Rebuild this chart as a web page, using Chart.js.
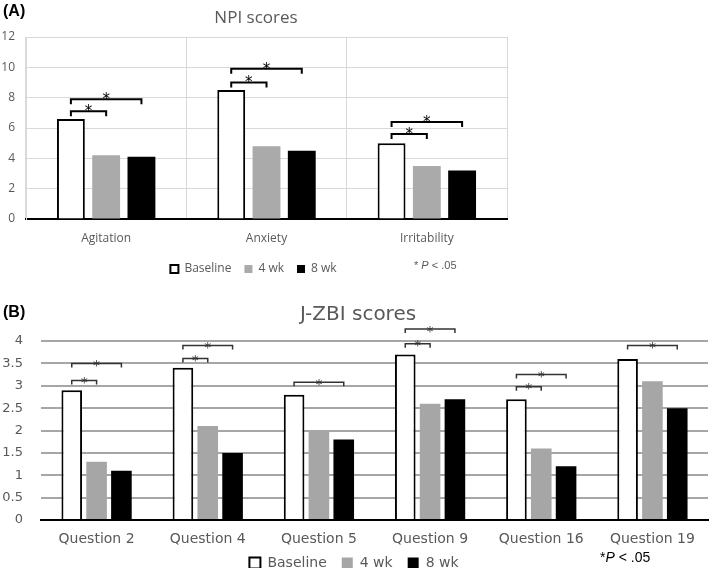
<!DOCTYPE html>
<html>
<head>
<meta charset="utf-8">
<script src="https://cdn.jsdelivr.net/npm/chart.js@4.4.0/dist/chart.umd.min.js"></script>
<style>
  body { margin: 0; background: #fff; width: 709px; height: 568px; position: relative; overflow: hidden; }
  #wa { position: absolute; left: 0; top: 0; width: 709px; height: 285px; }
  #wb { position: absolute; left: 0; top: 285px; width: 709px; height: 295px; }
</style>
</head>
<body>
<div id="wa"><canvas id="npi"></canvas></div>
<div id="wb"><canvas id="zbi"></canvas></div>
<script>
// panel A - NPI
const npiLabels = ["Agitation", "Anxiety", "Irritability"];
const npiBaseline = [6.6, 8.5, 5.0];
const npi4wk = [4.2, 4.8, 3.5];
const npi8wk = [4.1, 4.5, 3.2];
// [category, compared series, bracket height]
const npiBrackets = [[0, 1, 7.1], [0, 2, 7.9], [1, 1, 9.0], [1, 2, 9.9], [2, 1, 5.6], [2, 2, 6.4]];

// panel B - J-ZBI
const zbiLabels = ["Question 2", "Question 4", "Question 5", "Question 9", "Question 16", "Question 19"];
const zbiBaseline = [2.9, 3.4, 2.8, 3.7, 2.7, 3.6];
const zbi4wk = [1.3, 2.1, 2.0, 2.6, 1.6, 3.1];
const zbi8wk = [1.1, 1.5, 1.8, 2.7, 1.2, 2.5];
const zbiBrackets = [[0, 1, 3.12], [0, 2, 3.5], [1, 1, 3.61], [1, 2, 3.9], [2, 2, 3.08],
                     [3, 1, 3.94], [3, 2, 4.27], [4, 1, 2.98], [4, 2, 3.25], [5, 2, 3.9]];

const seriesNames = ["Baseline", "4 wk", "8 wk"];
const txt = "#595959";

function brackets(list, o) {
  return {
    id: "brackets",
    afterDatasetsDraw(chart) {
      const ctx = chart.ctx;
      const y = chart.scales.y;
      ctx.save();
      ctx.strokeStyle = o.color;
      ctx.fillStyle = o.color;
      ctx.lineWidth = o.width;
      ctx.font = o.font;
      ctx.textAlign = "center";
      list.forEach(([c, s, v]) => {
        const x0 = chart.getDatasetMeta(0).data[c].x;
        const x1 = chart.getDatasetMeta(s).data[c].x;
        const py = y.getPixelForValue(v);
        ctx.beginPath();
        ctx.moveTo(x0, py + o.tick);
        ctx.lineTo(x0, py);
        ctx.lineTo(x1, py);
        ctx.lineTo(x1, py + o.tick);
        ctx.stroke();
        ctx.fillText("*", (x0 + x1) / 2, py + o.starDy);
      });
      ctx.restore();
    }
  };
}

// titles, panel letters and the p-value note
function texts(items) {
  return {
    id: "texts",
    afterDraw(chart) {
      const ctx = chart.ctx;
      ctx.save();
      ctx.textBaseline = "middle";
      items.forEach(it => {
        ctx.fillStyle = it.color;
        ctx.textAlign = it.align || "left";
        let x = it.x;
        it.runs.forEach(r => {
          ctx.font = r[1];
          ctx.fillText(r[0], x, it.y);
          x += ctx.measureText(r[0]).width;
        });
      });
      ctx.restore();
    }
  };
}

function sets(b, w4, w8, gray) {
  return [
    { label: seriesNames[0], data: b, backgroundColor: "#ffffff", borderColor: "#000000", borderWidth: 2 },
    { label: seriesNames[1], data: w4, backgroundColor: gray, borderColor: gray, borderWidth: 0 },
    { label: seriesNames[2], data: w8, backgroundColor: "#000000", borderColor: "#000000", borderWidth: 0 }
  ];
}

new Chart(document.getElementById("npi"), {
  type: "bar",
  data: { labels: npiLabels, datasets: sets(npiBaseline, npi4wk, npi8wk, "#aaaaaa") },
  options: {
    responsive: true,
    maintainAspectRatio: false,
    animation: false,
    categoryPercentage: 0.66,
    barPercentage: 0.79,
    layout: { padding: { top: 37, right: 202, left: 0, bottom: 0 } },
    plugins: {
      tooltip: { enabled: false },
      legend: {
        position: "bottom",
        labels: { boxWidth: 8, boxHeight: 8, padding: 13, color: txt, font: { family: "Open Sans", size: 12 } }
      }
    },
    scales: {
      x: {
        afterFit: s => { s.height = 31; },
        grid: { offset: true, color: "#d9d9d9", drawTicks: false },
        border: { color: "#000000", width: 2 },
        ticks: { padding: 12, color: txt, font: { family: "Open Sans", size: 12 } }
      },
      y: {
        min: 0, max: 12,
        afterFit: s => { s.width = 26; },
        grid: { color: "#d9d9d9", drawTicks: false },
        border: { color: "#d9d9d9" },
        ticks: { stepSize: 2, padding: 11, color: txt, font: { family: "Open Sans", size: 12 } }
      }
    }
  },
  plugins: [
    brackets(npiBrackets, { color: "#000", width: 2, tick: 5, font: "15px DejaVu Sans", starDy: 1 }),
    texts([
      { x: 3, y: 12, color: "#000", runs: [["(A)", "bold 16px Liberation Sans"]] },
      { x: 256, y: 18, color: txt, align: "center", runs: [["NPI scores", "17px Open Sans"]] },
      { x: 414, y: 266, color: txt, runs: [["* ", "11px Liberation Sans"], ["P", "italic 11px Liberation Sans"], [" < .05", "11px Liberation Sans"]] }
    ])
  ]
});

new Chart(document.getElementById("zbi"), {
  type: "bar",
  data: { labels: zbiLabels, datasets: sets(zbiBaseline, zbi4wk, zbi8wk, "#a6a6a6") },
  options: {
    responsive: true,
    maintainAspectRatio: false,
    animation: false,
    categoryPercentage: 0.67,
    barPercentage: 0.83,
    layout: { padding: { top: 56, right: 1, left: 0, bottom: 0 } },
    plugins: {
      tooltip: { enabled: false },
      legend: {
        position: "bottom",
        labels: { boxWidth: 11, boxHeight: 11, padding: 15, color: txt, font: { family: "DejaVu Sans", size: 14 } }
      }
    },
    scales: {
      x: {
        // axis box is kept short so the legend sits close; labels are allowed to spill below it
        afterFit: s => { s.height = 21; s._computeLabelArea = () => null; },
        grid: { display: false },
        border: { color: "#000000", width: 2 },
        ticks: { padding: 3, color: txt, font: { family: "DejaVu Sans", size: 14 } }
      },
      y: {
        min: 0, max: 4,
        afterFit: s => { s.width = 41; },
        grid: { color: "#a6a6a6", lineWidth: 2, drawTicks: false },
        border: { display: false },
        ticks: { stepSize: 0.5, padding: 18, color: txt, font: { family: "DejaVu Sans", size: 13 },
                 callback: v => String(v) }
      }
    }
  },
  plugins: [
    brackets(zbiBrackets, { color: "#333333", width: 1.5, tick: 4, font: "14px DejaVu Sans", starDy: 3 }),
    texts([
      { x: 3, y: 28, color: "#000", runs: [["(B)", "bold 16px Liberation Sans"]] },
      { x: 358, y: 30, color: txt, align: "center", runs: [["J-ZBI scores", "20px DejaVu Sans"]] },
      { x: 600, y: 273, color: "#000", runs: [["*", "14px Liberation Sans"], ["P", "italic 14px Liberation Sans"], [" < .05", "14px Liberation Sans"]] }
    ])
  ]
});
</script>
</body>
</html>
